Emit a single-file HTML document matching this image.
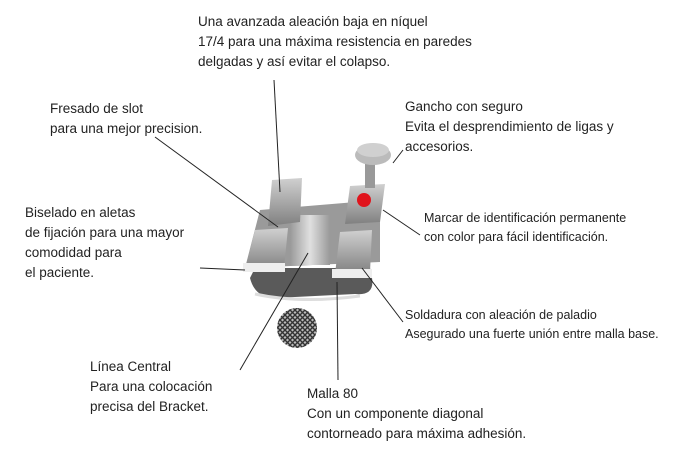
<!DOCTYPE html>
<html><head><meta charset="utf-8"><style>
body{margin:0;width:694px;height:449px;background:#fff;overflow:hidden;position:relative;font-family:"Liberation Sans",sans-serif;color:#222;}
.t{position:absolute;font-size:13.5px;line-height:20px;white-space:nowrap;}
.s{font-size:12.5px;line-height:19px;}
</style></head><body>
<svg width="694" height="449" style="position:absolute;left:0;top:0">
<defs>
<linearGradient id="g1" x1="0" y1="0" x2="0" y2="1"><stop offset="0" stop-color="#d0d0d0"/><stop offset="1" stop-color="#808080"/></linearGradient>
<linearGradient id="g2" x1="0" y1="0" x2="1" y2="0"><stop offset="0" stop-color="#999"/><stop offset="0.5" stop-color="#e0e0e0"/><stop offset="1" stop-color="#999"/></linearGradient>
<pattern id="mesh" width="5" height="5" patternUnits="userSpaceOnUse"><rect width="5" height="5" fill="#bbb"/><path d="M0 5L5 0M0 0L5 5" stroke="#333" stroke-width="1.4"/></pattern>
</defs>
<path d="M250 278 Q255 298 275 298 L355 294 Q375 296 372 278 L370 268 L255 268 Z" fill="#5a5a5a"/>
<path d="M255 294 Q300 304 360 296" stroke="#ddd" stroke-width="3" fill="none"/>
<path d="M260 210 L380 200 L380 262 L245 268 Z" fill="#9a9a9a"/>
<rect x="290" y="215" width="40" height="50" fill="url(#g2)"/>
<path d="M272 180 L302 178 L300 222 L268 226 Z" fill="url(#g1)"/>
<path d="M255 230 L288 228 L284 268 L245 270 Z" fill="url(#g1)"/>
<rect x="243" y="263" width="42" height="9" fill="#eee"/>
<path d="M350 186 L385 184 L380 222 L345 224 Z" fill="url(#g1)"/>
<path d="M340 232 L372 230 L370 272 L335 274 Z" fill="url(#g1)"/>
<rect x="332" y="269" width="40" height="9" fill="#eee"/>
<rect x="365" y="160" width="10" height="28" fill="#999"/>
<ellipse cx="373" cy="155" rx="18" ry="10" fill="#bbb"/>
<ellipse cx="373" cy="150" rx="16" ry="7" fill="#d0d0d0"/>
<circle cx="364" cy="200" r="7" fill="#e0141c"/>
<circle cx="297" cy="328" r="20" fill="url(#mesh)"/>
<g stroke="#222" stroke-width="1" fill="none">
<line x1="274" y1="80" x2="280" y2="192"/>
<line x1="155" y1="137" x2="278" y2="227"/>
<line x1="200" y1="268" x2="245" y2="270"/>
<line x1="403" y1="150" x2="393" y2="163"/>
<line x1="383" y1="210" x2="420" y2="235"/>
<line x1="362" y1="268" x2="403" y2="322"/>
<line x1="308" y1="253" x2="240" y2="370"/>
<line x1="337" y1="282" x2="338" y2="380"/>
</g>
</svg>
<div class="t" style="left:198px;top:12px">Una avanzada aleación baja en níquel<br>17/4 para una máxima resistencia en paredes<br>delgadas y así evitar el colapso.</div>
<div class="t" style="left:50px;top:99px">Fresado de slot<br>para una mejor precision.</div>
<div class="t" style="left:405px;top:97px">Gancho con seguro<br>Evita el desprendimiento de ligas y<br>accesorios.</div>
<div class="t" style="left:25px;top:203px">Biselado en aletas<br>de fijación para una mayor<br>comodidad para<br>el paciente.</div>
<div class="t s" style="left:424px;top:209px">Marcar de identificación permanente<br>con color para fácil identificación.</div>
<div class="t s" style="left:405px;top:306px">Soldadura con aleación de paladio<br>Asegurado una fuerte unión entre malla base.</div>
<div class="t" style="left:90px;top:357px">Línea Central<br>Para una colocación<br>precisa del Bracket.</div>
<div class="t" style="left:307px;top:384px">Malla 80<br>Con un componente diagonal<br>contorneado para máxima adhesión.</div>
</body></html>
